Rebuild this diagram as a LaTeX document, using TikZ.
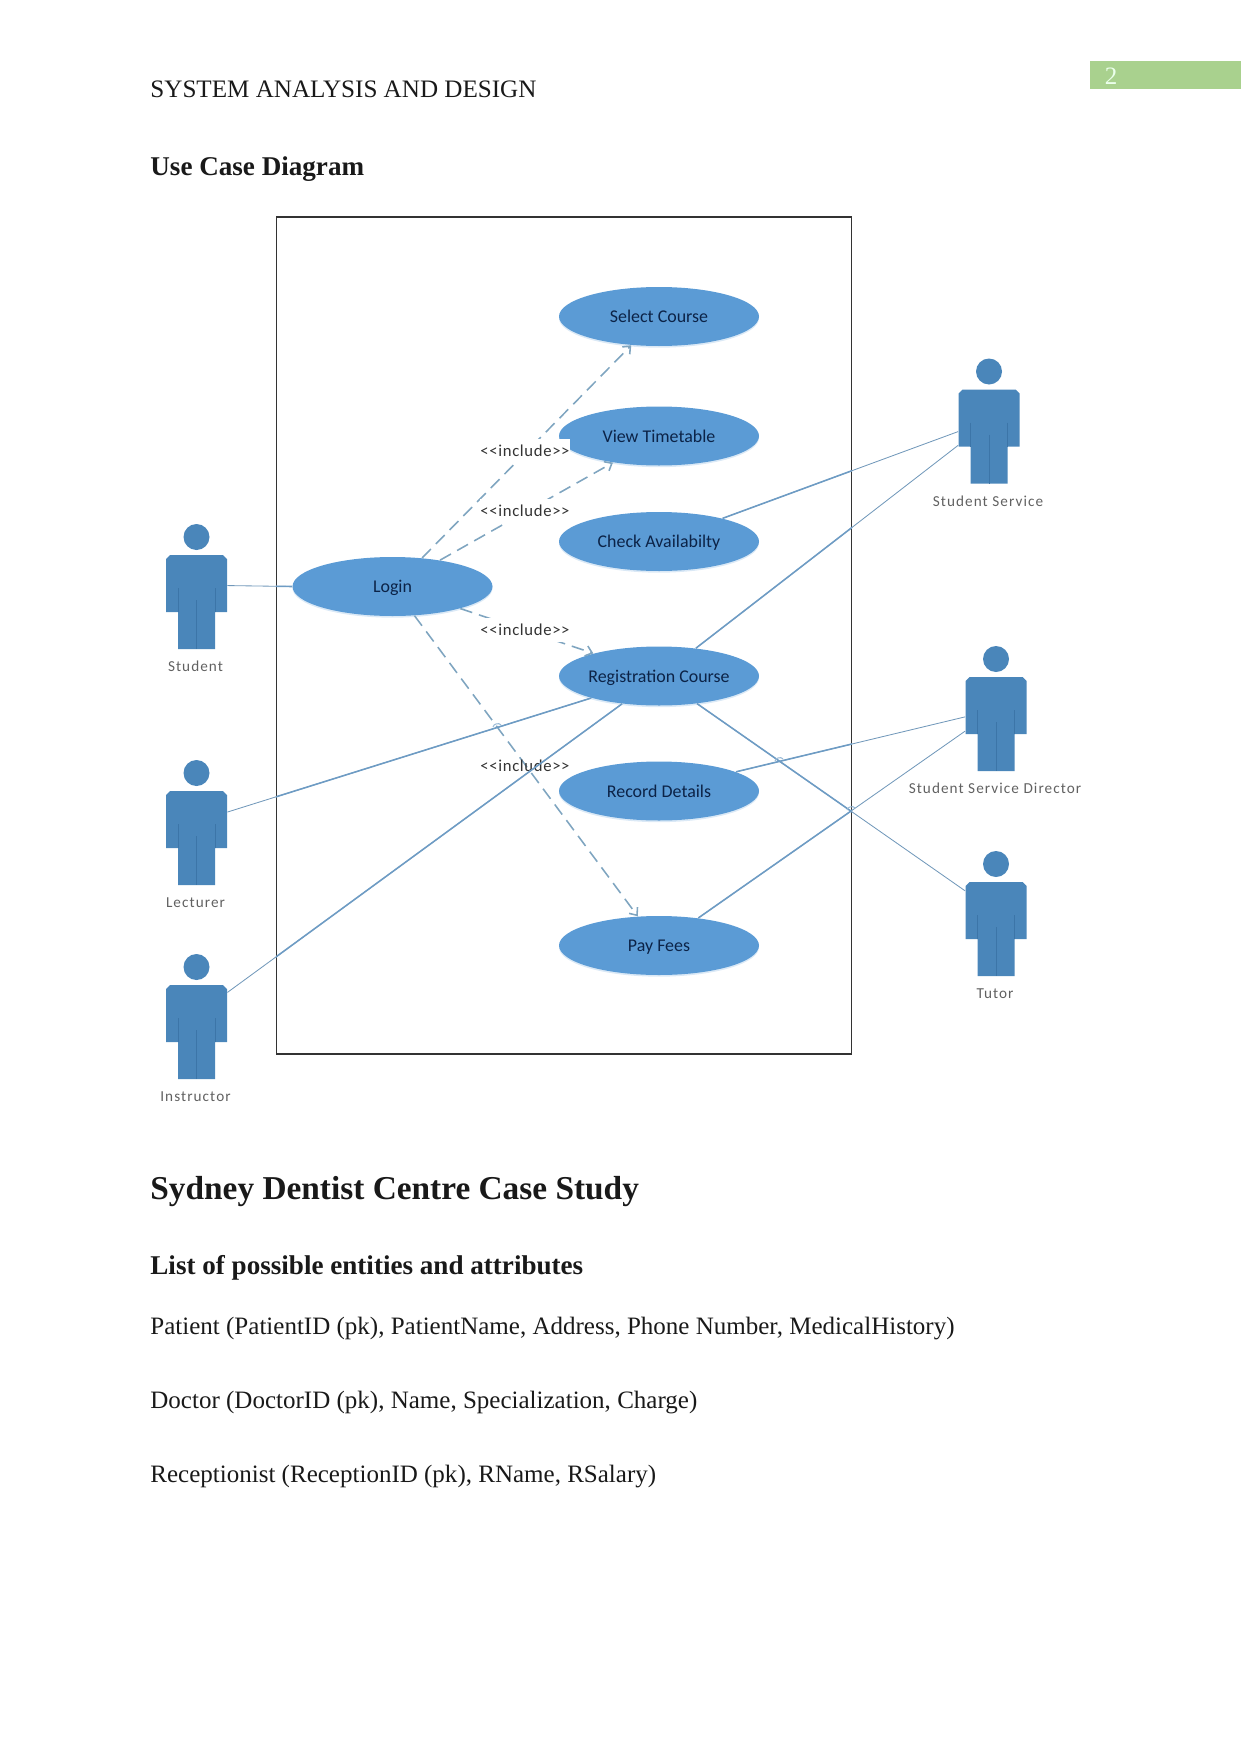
\documentclass[tikz,border=0pt]{standalone}
\usepackage{fontspec}
\setmainfont{Liberation Serif}
\newfontfamily\casefont{Carlito}
\newfontfamily\actorfont[LetterSpace=7]{Carlito}
\newfontfamily\includefont[LetterSpace=4]{Carlito}
\usetikzlibrary{arrows.meta,shapes.geometric,shadows}
\definecolor{casefill}{HTML}{5B9BD5}
\definecolor{actorfill}{HTML}{4A86BA}
\definecolor{actorline}{HTML}{3C75A8}
\definecolor{linkblue}{HTML}{6E9CC4}
\definecolor{dashblue}{HTML}{7FA5C0}
\definecolor{casetext}{HTML}{0C2347}
\definecolor{bandgreen}{HTML}{A9D18E}
\def\unit{0.4797pt}
\tikzset{
    pagetext/.style={anchor=base west, inner sep=0pt, text=black!90},
    usecase/.style={ellipse, fill=casefill, minimum width=200*\unit,
                    minimum height=59*\unit, inner sep=0pt, text=casetext,
                    text height=7.6pt, text depth=1.8pt,
                    font=\casefont\fontsize{8.6}{10}\selectfont,
                    drop shadow={shadow xshift=0pt, shadow yshift=-0.8pt,
                                 opacity=0.22, fill=casefill}},
    actorbody/.style={minimum width=61*\unit, minimum height=94*\unit, inner sep=0pt},
    actorname/.style={inner sep=0pt, text=black!62,
                      font=\actorfont\fontsize{7.3}{9}\selectfont},
    assoc/.style={draw=linkblue!85!gray, line width=0.4pt},
    associn/.style={draw=linkblue, line width=0.75pt},
    incl/.style={draw=dashblue, line width=0.75pt, dash pattern=on 6pt off 3.4pt,
                 -{Straight Barb[length=3pt,width=5pt]}},
    incltext/.style={fill=white, inner sep=0pt, minimum width=87*\unit,
                     minimum height=24*\unit, text=black!80,
                     font=\includefont\fontsize{8}{9}\selectfont},
    hop/.style={draw=linkblue!70, line width=0.5pt},
}
% solid links, drawn once thin and once again thicker inside the system box
\newcommand{\assoclinks}[1]{%
    \foreach \from/\to in {student.28/login.west, lecturer.40/registration.198,
        instructor.52/registration.217, service.171/check.20,
        service.196/registration.37, director.167/record.14,
        director.193/fees.35, tutor.129/registration.324}
        {\draw[#1] (\from) -- (\to);}%
}

\begin{document}
\begin{tikzpicture}[x=\unit, y=-\unit]

    \useasboundingbox (0,0) rectangle (1241,1754);

    % page text
    \node[pagetext, font=\fontsize{12.05}{14}\selectfont] (header) at (150,98) {SYSTEM ANALYSIS AND DESIGN};
    \node[fill=bandgreen, minimum width=151*\unit, minimum height=28.5*\unit, inner sep=0pt] (band) at (1165.5,75) {};
    \node[inner sep=0pt, text=green!8, font=\fontsize{12}{14}\selectfont] (pageno) at (1111,76) {2};
    \node[pagetext, font=\bfseries\fontsize{13}{15}\selectfont] (usecasetitle) at (150,175) {Use Case Diagram};
    \node[pagetext, font=\bfseries\fontsize{16}{18}\selectfont] (sydney) at (150,1199) {Sydney Dentist Centre Case Study};
    \node[pagetext, font=\bfseries\fontsize{13}{15}\selectfont] (listtitle) at (150,1274) {List of possible entities and attributes};
    \node[pagetext, font=\fontsize{12}{14}\selectfont] (patient) at (150,1334) {Patient (PatientID (pk), PatientName, Address, Phone Number, MedicalHistory)};
    \node[pagetext, font=\fontsize{12}{14}\selectfont] (doctor) at (150,1408) {Doctor (DoctorID (pk), Name, Specialization, Charge)};
    \node[pagetext, font=\fontsize{12}{14}\selectfont] (receptionist) at (150,1482) {Receptionist (ReceptionID (pk), RName, RSalary)};

    % system box
    \node[draw=black!80, line width=0.6pt, minimum width=575*\unit, minimum height=837*\unit, inner sep=0pt] (system) at (564,635.5) {};

    % use cases
    \node[usecase] (login) at (392.5,586.5) {Login};
    \node[usecase] (select) at (659,316.5) {Select Course};
    \node[usecase] (timetable) at (659,436) {View Timetable};
    \node[usecase] (check) at (659,541.5) {Check Availabilty};
    \node[usecase] (registration) at (659,676) {Registration Course};
    \node[usecase] (record) at (659,791) {Record Details};
    \node[usecase] (fees) at (659,945.5) {Pay Fees};

    % actors
    \foreach \name/\hx/\hy/\txt in {student/196.5/537/Student, lecturer/196.5/773/Lecturer,
        instructor/196.5/967/Instructor, service/989/371.5/Student Service,
        director/996/659/Student Service Director, tutor/996/864/Tutor} {
        \begin{scope}[shift={(\hx,\hy)}]
            \fill[actorfill] (0,0) circle (13);
            \fill[actorfill] (-30.5,22) -- (-26.5,18) -- (26.5,18) -- (30.5,22) -- (30.5,75)
                -- (18.5,75) -- (18.5,112) -- (-18.5,112) -- (-18.5,75) -- (-30.5,75) -- cycle;
            \draw[actorline, line width=0.35pt] (-18.5,51) -- (-18.5,75) (18.5,51) -- (18.5,75) (0,63) -- (0,112);
            \node[actorbody] (\name) at (0,65) {};
            \node[actorname] (\name-label) at (-1,129.5) {\txt};
        \end{scope}
    }

    % include relations
    \draw[incl] (login.44) -- (select.226);
    \draw[incl] (login.29) -- (timetable.210);
    \draw[incl] (login.342) -- (registration.161);
    \draw[incl] (login.307) -- (fees.126);
    \node[incltext] (incl-select) at (525,451) {{<}{<}include{>}{>}};
    \node[incltext] (incl-timetable) at (525,510.7) {{<}{<}include{>}{>}};
    \node[incltext] (incl-registration) at (525,630) {{<}{<}include{>}{>}};
    \node[incltext, fill=none] (incl-fees) at (525,765.7) {{<}{<}include{>}{>}};

    % associations
    \assoclinks{assoc}
    \begin{scope}
        \clip (system.south west) rectangle (system.north east);
        \assoclinks{associn}
    \end{scope}

    % line jumps at the crossings
    \foreach \jx/\jy in {497/726, 779/760, 851/809}
        \draw[hop] (\jx-4,\jy+1) to[bend left=70] (\jx+4,\jy-1);

\end{tikzpicture}
\end{document}
